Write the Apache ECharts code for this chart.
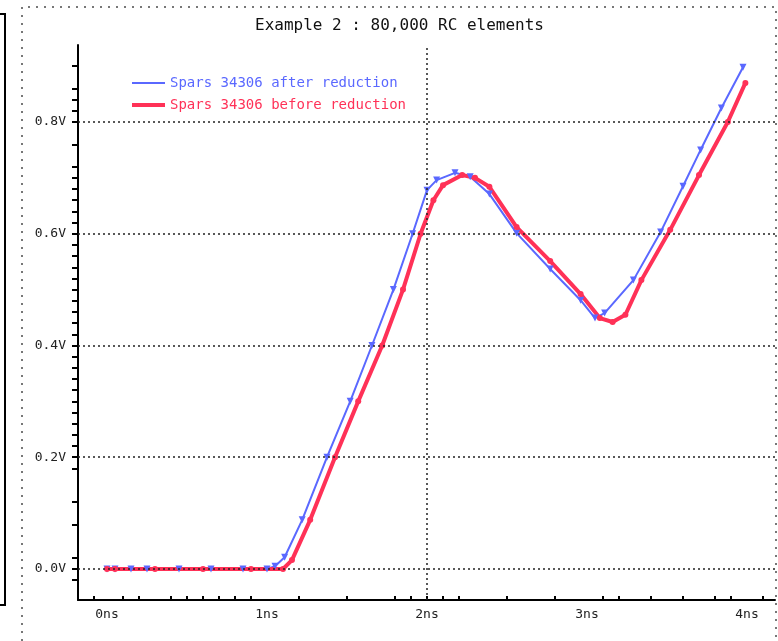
<!DOCTYPE html>
<html>
<head>
<meta charset="utf-8">
<script src="https://cdn.jsdelivr.net/npm/echarts@6/dist/echarts.min.js"></script>
<style>html,body{margin:0;padding:0;background:#fff}#c{width:778px;height:641px}</style>
</head>
<body>
<div id="c"></div>
<script>
const titleText = 'Example 2 : 80,000 RC elements';
const seriesNames = ['Spars 34306 after reduction', 'Spars 34306 before reduction'];
const xTickLabels = [0, 1, 2, 3, 4];
const yTickLabels = [0, 0.2, 0.4, 0.6, 0.8];
const xMinorTicks = [-0.08, 0.1, 0.2, 0.4, 0.5, 0.6, 0.7, 0.8, 0.9, 1.2, 1.5, 1.8, 1.9, 2.0, 2.1, 2.2, 2.5, 2.8, 3.1, 3.2, 3.4, 3.6, 3.8, 3.9, 4.1];
const yMinorTicks = [-0.02, 0, 0.02, 0.08, 0.12, 0.18, 0.2, 0.22, 0.24, 0.26, 0.28, 0.3, 0.32, 0.34, 0.36, 0.38, 0.4, 0.42, 0.44, 0.46, 0.48, 0.5, 0.52, 0.54, 0.56, 0.58, 0.6, 0.62, 0.64, 0.66, 0.68, 0.7, 0.72, 0.76, 0.8, 0.82, 0.84, 0.86, 0.9];

// blue: after reduction (time in ns, voltage in V)
const afterT = [0, 0.05, 0.15, 0.25, 0.45, 0.65, 0.85, 1.0, 1.05, 1.11, 1.22, 1.375, 1.52, 1.656, 1.79, 1.91, 2.0, 2.06, 2.175, 2.27, 2.39, 2.56, 2.77, 2.96, 3.05, 3.11, 3.29, 3.46, 3.6, 3.71, 3.84, 3.975];
const afterV = [0, 0, 0, 0, 0, 0, 0, 0, 0.005, 0.021, 0.088, 0.2, 0.3, 0.4, 0.5, 0.6, 0.678, 0.696, 0.709, 0.702, 0.671, 0.601, 0.537, 0.481, 0.449, 0.458, 0.517, 0.603, 0.685, 0.75, 0.825, 0.898];
// red: before reduction
const beforeT = [0, 0.05, 0.3, 0.6, 0.9, 1.1, 1.156, 1.27, 1.425, 1.57, 1.72, 1.85, 1.96, 2.04, 2.1, 2.22, 2.3, 2.39, 2.56, 2.77, 2.96, 3.08, 3.16, 3.24, 3.34, 3.52, 3.7, 3.88, 3.99];
const beforeV = [0, 0, 0, 0, 0, 0, 0.016, 0.088, 0.2, 0.3, 0.4, 0.5, 0.6, 0.66, 0.687, 0.705, 0.7, 0.684, 0.612, 0.551, 0.492, 0.449, 0.442, 0.455, 0.517, 0.607, 0.705, 0.8, 0.87];

const zip = (a, b) => a.map((v, i) => [v, b[i]]);
const BLUE = '#5a68ff';
const RED = '#ff3157';
const MONO = '"DejaVu Sans Mono", "Liberation Mono", monospace';

const chart = echarts.init(document.getElementById('c'), null, {renderer: 'canvas'});
chart.setOption({
  animation: false,
  backgroundColor: '#fff',
  title: {
    text: titleText, left: 250, top: 13,
    textStyle: {fontFamily: MONO, fontSize: 16, fontWeight: 'normal', color: '#111'}
  },
  legend: {
    orient: 'vertical', left: 127, top: 71, itemWidth: 33, itemHeight: 14, itemGap: 8,
    textStyle: {fontFamily: MONO, fontSize: 14},
    data: [
      {name: seriesNames[0], icon: 'path://M0 0H33V2H0Z', textStyle: {color: BLUE}},
      {name: seriesNames[1], icon: 'path://M0 0H33V4H0Z', textStyle: {color: RED}}
    ]
  },
  grid: {left: 78, right: 3, top: 45, bottom: 41, containLabel: false},
  xAxis: {
    type: 'value', min: -0.18125, max: 4.175,
    axisLine: {onZero: false, lineStyle: {color: '#000', width: 2}},
    axisTick: {show: true, inside: true, length: 4, lineStyle: {color: '#000', width: 2}, customValues: xMinorTicks},
    axisLabel: {customValues: xTickLabels, formatter: v => Math.round(v) + 'ns', margin: 8, fontFamily: MONO, fontSize: 13, color: '#222'},
    splitLine: {show: false}
  },
  yAxis: {
    type: 'value', min: -0.0555, max: 0.9378,
    axisLine: {onZero: false, lineStyle: {color: '#000', width: 2}},
    axisTick: {show: true, inside: false, length: 6, lineStyle: {color: '#000', width: 2}, customValues: yMinorTicks},
    axisLabel: {customValues: yTickLabels, formatter: v => v.toFixed(1) + 'V', margin: 12, fontFamily: MONO, fontSize: 13, color: '#222'},
    splitLine: {show: false}
  },
  graphic: [
    {type: 'polyline', silent: true, shape: {points: [[0, 14], [5, 14], [5, 605], [0, 605]]}, style: {stroke: '#000', lineWidth: 2, fill: null}},
    {type: 'polyline', silent: true, shape: {points: [[22, 641], [22, 7], [776, 7], [776, 641]]}, style: {stroke: '#777', lineWidth: 2, lineDash: [2, 6], fill: null}}
  ],
  series: [
    {
      type: 'line', name: '_grid', data: [], silent: true,
      markLine: {
        silent: true, symbol: ['none', 'none'], label: {show: false},
        lineStyle: {color: '#222', type: [2, 3], width: 1.5},
        data: yTickLabels.map(v => ({yAxis: v})).concat([{xAxis: 2}])
      }
    },
    {
      type: 'line', name: seriesNames[0], data: zip(afterT, afterV),
      showSymbol: true, symbol: 'path://M0 0L10 0L5 10Z', symbolSize: 7,
      lineStyle: {color: BLUE, width: 2}, itemStyle: {color: BLUE}
    },
    {
      type: 'line', name: seriesNames[1], data: zip(beforeT, beforeV),
      showSymbol: true, symbol: 'circle', symbolSize: 6,
      lineStyle: {color: RED, width: 4}, itemStyle: {color: RED}
    }
  ]
});
</script>
</body>
</html>
